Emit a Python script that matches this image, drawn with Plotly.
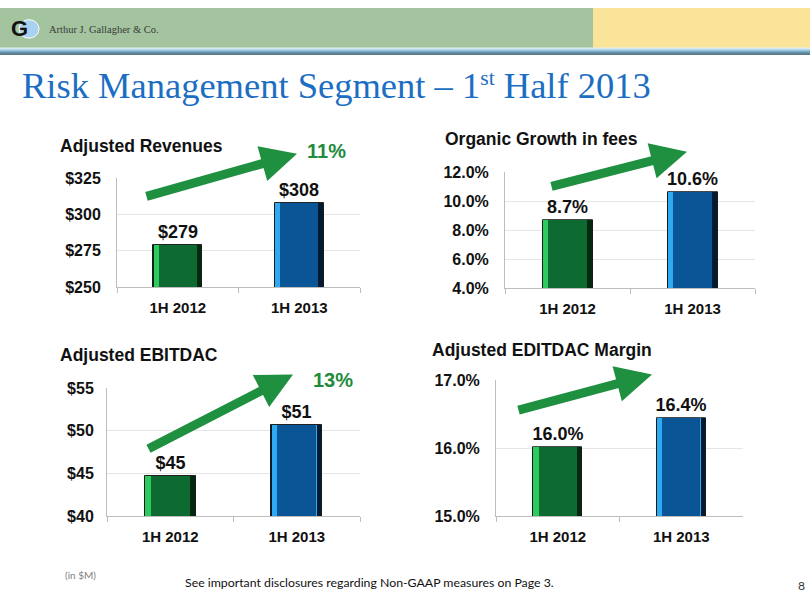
import plotly.graph_objects as go

# ---------------- data ----------------
periods = ["1H 2012", "1H 2013"]

rev_values = [279, 308]
rev_labels = ["$279", "$308"]
rev_growth = "11%"
rev_ticks = [250, 275, 300, 325]

org_values = [8.7, 10.6]
org_labels = ["8.7%", "10.6%"]
org_ticks = [4.0, 6.0, 8.0, 10.0, 12.0]

ebit_values = [44.7, 50.7]
ebit_labels = ["$45", "$51"]
ebit_growth = "13%"
ebit_ticks = [40, 45, 50, 55]

margin_values = [16.02, 16.44]
margin_labels = ["16.0%", "16.4%"]
margin_ticks = [15.0, 16.0, 17.0]

titles = ["Adjusted Revenues", "Organic Growth in fees", "Adjusted EBITDAC", "Adjusted EDITDAC Margin"]

# ---------------- styling ----------------
W, H = 810, 608
face_cols = ["#0d6b31", "#0a5596"]
light_cols = ["#2bcb5e", "#2eaaf2"]
dark_cols = ["#052810", "#041a30"]
BOLD = "Liberation Sans"
GRID = "#e6e6e6"
AXL = "#bdbdbd"


def px(x):
    return x / W


def py(y):
    return 1 - y / H


fig = go.Figure()

panels = [
    (rev_values, rev_labels, "", (117, 360), (175, 287), (250, 325), rev_ticks, "$", 12),
    (org_values, org_labels, "2", (505, 755), (169, 288), (4, 12), org_ticks, "%", 12),
    (ebit_values, ebit_labels, "3", (107, 360), (391, 523), (40, 55), ebit_ticks, "$", 9),
    (margin_values, margin_labels, "4", (496, 743), (383, 523), (15, 17), margin_ticks, "%", 12),
]

for vals, labs, s, xd, yd, rng, ticks, fmt, stand in panels:
    xa, ya = "x" + s, "y" + s
    fig.add_trace(go.Bar(x=periods, y=vals, xaxis=xa, yaxis=ya, width=0.4, offset=-0.2,
                         marker=dict(color=dark_cols, line=dict(width=1, color="#1a1a1a")), hoverinfo="skip"))
    fig.add_trace(go.Bar(x=periods, y=vals, xaxis=xa, yaxis=ya, width=0.355, offset=-0.197,
                         marker=dict(color=light_cols, line=dict(width=0)), hoverinfo="skip"))
    fig.add_trace(go.Bar(x=periods, y=vals, xaxis=xa, yaxis=ya, width=0.31, offset=-0.155,
                         marker=dict(color=face_cols, line=dict(width=0)),
                         text=labs, textposition="outside", cliponaxis=False, constraintext="none",
                         textfont=dict(family=BOLD, size=18, color="#111111", weight="bold")))
    if fmt == "$":
        ticktext = ["$%d" % t for t in ticks]
    else:
        ticktext = ["%.1f%%" % t for t in ticks]
    fig.layout["xaxis" + s] = dict(
        domain=[px(xd[0]), px(xd[1])], anchor=ya, type="category",
        showline=True, linecolor=AXL, linewidth=1, ticks="outside", tickson="boundaries",
        ticklen=5, tickcolor=AXL, ticklabelstandoff=7, showgrid=False,
        tickfont=dict(family=BOLD, size=15, color="#111111", weight="bold"), fixedrange=True)
    fig.layout["yaxis" + s] = dict(
        domain=[py(yd[1]), py(yd[0])], anchor=xa, range=list(rng),
        tickvals=ticks, ticktext=ticktext, showgrid=True, gridcolor=GRID, gridwidth=1,
        showline=True, linecolor=AXL, linewidth=1, ticks="", zeroline=False,
        ticklabelstandoff=stand,
        tickfont=dict(family=BOLD, size=16, color="#111111", weight="bold"), fixedrange=True)

annotations = []
shapes = []

# header band
shapes.append(dict(type="rect", xref="paper", yref="paper", x0=0, x1=px(593), y0=py(41), y1=1,
                   fillcolor="#a3c49f", line=dict(width=0), layer="below"))
shapes.append(dict(type="rect", xref="paper", yref="paper", x0=px(593), x1=1, y0=py(41), y1=1,
                   fillcolor="#f9e49a", line=dict(width=0), layer="below"))
stripe = ["#d3e8f0", "#b4d6e8", "#8fbedc", "#6aa2c8", "#4c84a6", "#386a80", "#2c5560"]
for i, c in enumerate(stripe):
    shapes.append(dict(type="rect", xref="paper", yref="paper", x0=0, x1=1,
                       y0=py(41 + i + 1), y1=py(41 + i), fillcolor=c, line=dict(width=0), layer="below"))
# logo: globe + G
shapes.append(dict(type="circle", xref="paper", yref="paper", x0=px(19), x1=px(39), y0=py(31), y1=py(12),
                   fillcolor="#a9d2f0", line=dict(color="#ffffff", width=1)))
annotations.append(dict(text="<b>G</b>", x=px(19), y=py(21), xref="paper", yref="paper", showarrow=False,
                        font=dict(family="Liberation Sans", size=22, color="#111111"), xanchor="center", yanchor="middle"))
annotations.append(dict(text="Arthur J. Gallagher &amp; Co.", x=px(47), y=py(22), xref="paper", yref="paper",
                        showarrow=False, xanchor="left", yanchor="middle",
                        font=dict(family="Liberation Serif", size=10.5, color="#3a3a3a")))

# slide title
annotations.append(dict(text="Risk Management Segment – 1<span style='font-size:31px'><sup>st</sup></span> Half 2013",
                        x=px(20), y=py(103), xref="paper", yref="paper", showarrow=False,
                        xanchor="left", yanchor="bottom",
                        font=dict(family="Liberation Serif", size=36.5, color="#1b6ec2")))

for t, (x, y) in zip(titles, [(58, 142), (443, 135), (58, 357), (430, 352)]):
    annotations.append(dict(text="<b>%s</b>" % t, x=px(x), y=py(y), xref="paper", yref="paper",
                            showarrow=False, xanchor="left", yanchor="middle",
                            font=dict(family=BOLD, size=17.5, color="#111111")))

for t, (x, y) in zip([rev_growth, ebit_growth], [(326, 147), (333, 383)]):
    annotations.append(dict(text="<b>%s</b>" % t, x=px(x), y=py(y), xref="paper", yref="paper",
                            showarrow=False, xanchor="center", yanchor="middle",
                            font=dict(family=BOLD, size=20, color="#1f8b3d")))

for (tx, ty), (sx, sy) in [((297, 150), (145, 193)), ((687, 148), (550, 183)),
                           ((293, 377), (147, 452)), ((652, 377), (517, 413))]:
    annotations.append(dict(text="", x=px(tx), y=py(ty), xref="paper", yref="paper",
                            ax=sx - tx, ay=sy - ty, showarrow=True, arrowhead=2, arrowsize=0.8,
                            arrowwidth=9, arrowcolor="#1f8f40", standoff=0))

# footer
annotations.append(dict(text="(in $M)", x=px(63), y=py(583), xref="paper", yref="paper", showarrow=False,
                        xanchor="left", yanchor="middle", font=dict(family="Lato", size=10, color="#7f7f7f")))
annotations.append(dict(text="See important disclosures regarding Non-GAAP measures on Page 3.", x=px(183), y=py(591),
                        xref="paper", yref="paper", showarrow=False, xanchor="left", yanchor="middle",
                        font=dict(family="Lato", size=12.3, color="#111111")))
annotations.append(dict(text="8", x=px(801), y=py(594), xref="paper", yref="paper", showarrow=False,
                        xanchor="center", yanchor="middle", font=dict(family="Lato", size=12, color="#333333")))

fig.update_layout(width=W, height=H, margin=dict(l=0, r=0, t=0, b=0), paper_bgcolor="white",
                  plot_bgcolor="white", showlegend=False, barmode="overlay", bargap=0,
                  annotations=annotations, shapes=shapes)

fig.write_html("out.html", config={"displayModeBar": False},
               post_script="document.body.style.margin='0';document.body.style.overflow='hidden';")
